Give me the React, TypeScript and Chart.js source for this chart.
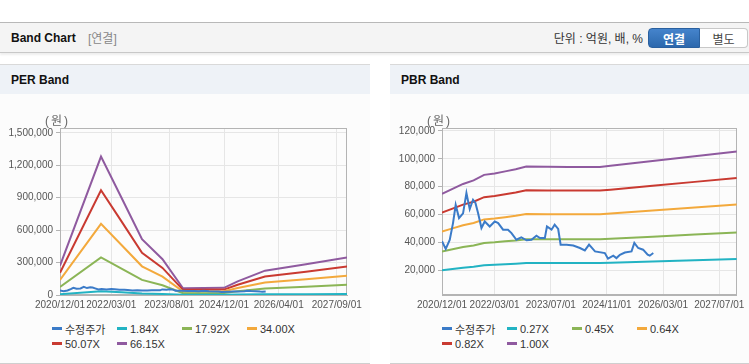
import React, { useEffect, useRef } from "react";
import { Chart, registerables } from "chart.js";

Chart.register(...registerables);

const FONT = '"Liberation Sans", "Noto Sans CJK KR", Arial, sans-serif';

// ---------- data ----------
// x values are months elapsed since 2020/12/01
const priceMonths = [0, 1.06, 2.2, 3.14, 3.9, 4.85, 6.0, 6.96, 7.9, 8.84, 9.53, 10.27, 11.24, 12.18, 13.6, 15.03, 16.0, 17.4, 18.8, 19.8, 21.2, 22.6, 24.1, 25.5, 26.9, 27.9, 29.3, 29.9, 31.2, 32.1, 33.1, 33.8, 35.5, 37.4, 39.3, 40.7, 41.9, 43.6, 46.4, 47.3, 48.8, 49.7, 50.7, 52.1, 54.0, 54.8, 55.9, 57.3, 58.6, 59.2, 60.2];
const priceValues = [41000, 35500, 42000, 54000, 67000, 57600, 61000, 75500, 64000, 70700, 68400, 61200, 50500, 55200, 51600, 55200, 54000, 49300, 49300, 46900, 42100, 43800, 41700, 42100, 45000, 43300, 43300, 51600, 49300, 52900, 49800, 38600, 38600, 38000, 36200, 34500, 38600, 33800, 32600, 28600, 30700, 29000, 31400, 33000, 33800, 39800, 36200, 35000, 31400, 30700, 32600];

const perMonths = [0, 12, 18, 24, 30, 36, 48, 52, 60, 72, 84];
const perBandNames = ["1.84X", "17.92X", "34.00X", "50.07X", "66.15X"];
const perBand1 = [7500, 35600, 25000, 14400, 9200, 1750, 1840, 3500, 6260, 7910, 9660];
const perBand2 = [73500, 346800, 243700, 139800, 89600, 17000, 17900, 34000, 60900, 77100, 94100];
const perBand3 = [139400, 657900, 462400, 265200, 170000, 32300, 34000, 64600, 115600, 146200, 178500];
const perBand4 = [205300, 968900, 681000, 390500, 250400, 47600, 50100, 95100, 170200, 215300, 262900];
const perBand5 = [271200, 1280000, 899600, 516000, 330800, 62800, 66200, 125700, 224900, 284400, 347300];
const perYTicks = [0, 300000, 600000, 900000, 1200000, 1500000];
const perXTickLabels = ["2020/12/01", "2022/03/01", "2023/08/01", "2024/12/01", "2026/04/01", "2027/09/01"];

const pbrMonths = [0, 3, 6, 9, 12, 15, 18, 21, 24, 30, 36, 45, 48, 60, 72, 84];
const pbrBandNames = ["0.27X", "0.45X", "0.64X", "0.82X", "1.00X"];
const pbrBand1 = [20250, 21200, 22140, 22820, 23900, 24170, 24570, 24980, 25520, 25460, 25430, 25430, 25650, 26570, 27490, 28400];
const pbrBand2 = [33750, 35330, 36900, 38030, 39830, 40280, 40950, 41630, 42530, 42440, 42390, 42390, 42750, 44280, 45810, 47340];
const pbrBand3 = [48000, 50240, 52480, 54080, 56640, 57280, 58240, 59200, 60480, 60350, 60290, 60290, 60800, 62980, 65150, 67330];
const pbrBand4 = [61500, 64370, 67240, 69290, 72570, 73390, 74620, 75850, 77490, 77330, 77240, 77240, 77900, 80690, 83480, 86260];
const pbrBand5 = [75000, 78500, 82000, 84500, 88500, 89500, 91000, 92500, 94500, 94300, 94200, 94200, 95000, 98400, 101800, 105200];
const pbrYTicks = [20000, 40000, 60000, 80000, 100000, 120000];
const pbrXTickLabels = ["2020/12/01", "2022/03/01", "2023/07/01", "2024/11/01", "2026/03/01", "2027/07/01"];

const priceName = "수정주가";
const seriesColors = ["#3b7bc8", "#22b3c3", "#8bb556", "#f3a93c", "#c93a31", "#8f5a9f"];

// ---------- helpers ----------
const labelToMonth = (s: string) => {
  const [y, m] = s.split("/").map(Number);
  return (y - 2020) * 12 + (m - 12);
};

const zip = (xs: number[], ys: number[]) => xs.map((x, i) => ({ x, y: ys[i] }));

const framePlugin = {
  id: "frame",
  beforeDatasetsDraw(chart: any) {
    const { ctx, chartArea: a } = chart;
    ctx.save();
    ctx.strokeStyle = "#b4b4b4";
    ctx.lineWidth = 1;
    ctx.strokeRect(
      Math.round(a.left) + 0.5,
      Math.round(a.top) + 0.5,
      Math.round(a.right - a.left) - 1,
      Math.round(a.bottom - a.top) - 1
    );
    ctx.restore();
  },
};

type ChartProps = {
  width: number;
  height: number;
  yWidth: number;
  padRight: number;
  yMin: number;
  yMax: number;
  yTicks: number[];
  xTickLabels: string[];
  bandMonths: number[];
  bands: number[][];
  bandNames: string[];
};

function BandCanvas(p: ChartProps) {
  const ref = useRef<HTMLCanvasElement | null>(null);
  useEffect(() => {
    if (!ref.current) return;
    const xTicks = p.xTickLabels.map(labelToMonth);
    const datasets: any[] = [
      {
        label: priceName,
        data: zip(priceMonths, priceValues),
        borderColor: seriesColors[0],
        backgroundColor: seriesColors[0],
        borderWidth: 2,
        pointRadius: 0,
      },
      ...p.bands.map((b, i) => ({
        label: p.bandNames[i],
        data: zip(p.bandMonths, b),
        borderColor: seriesColors[i + 1],
        backgroundColor: seriesColors[i + 1],
        borderWidth: 2,
        pointRadius: 0,
      })),
    ];
    const chart = new Chart(ref.current, {
      type: "line",
      data: { datasets },
      plugins: [framePlugin],
      options: {
        animation: false,
        responsive: false,
        maintainAspectRatio: false,
        layout: { padding: { left: 0, right: p.padRight, top: 28, bottom: 0 } },
        plugins: { legend: { display: false }, tooltip: { enabled: false } },
        elements: { line: { tension: 0 } },
        scales: {
          x: {
            type: "linear",
            min: 0,
            max: 84,
            afterBuildTicks: (scale: any) => {
              scale.ticks = xTicks.map((v) => ({ value: v }));
            },
            afterFit: (scale: any) => {
              scale.height = 20;
            },
            ticks: {
              autoSkip: false,
              maxRotation: 0,
              padding: 4,
              color: "#555",
              font: { family: FONT, size: 10 },
              callback: (v: any) => {
                const i = xTicks.indexOf(Number(v));
                return i >= 0 ? p.xTickLabels[i] : "";
              },
            },
            grid: { color: "#e6e6e6", drawTicks: false },
            border: { color: "#b4b4b4" },
          },
          y: {
            type: "linear",
            min: p.yMin,
            max: p.yMax,
            afterBuildTicks: (scale: any) => {
              scale.ticks = p.yTicks.map((v) => ({ value: v }));
            },
            afterFit: (scale: any) => {
              scale.width = p.yWidth;
            },
            ticks: {
              padding: 3,
              color: "#555",
              font: { family: FONT, size: 10 },
              callback: (v: any) => Number(v).toLocaleString("en-US"),
            },
            grid: { color: "#e6e6e6", tickLength: 4, tickColor: "#b4b4b4" },
            border: { color: "#b4b4b4" },
          },
        },
      } as any,
    });
    return () => chart.destroy();
  }, []);
  return <canvas ref={ref} width={p.width} height={p.height} style={{ display: "block", width: p.width, height: p.height }} />;
}

function Legend({ names, left }: { names: string[]; left: number }) {
  return (
    <div style={{ position: "absolute", left, top: 321, width: 270, display: "flex", flexWrap: "wrap" }}>
      {names.map((n, i) => (
        <div key={n} style={{ width: 65, height: 15, display: "flex", alignItems: "center" }}>
          <span style={{ display: "inline-block", width: 10, height: 3, background: seriesColors[i], marginRight: 3 }} />
          <span style={{ fontSize: 11, color: "#333", whiteSpace: "nowrap" }}>{n}</span>
        </div>
      ))}
    </div>
  );
}

function Panel({ left, width, title }: { left: number; width: number; title: string }) {
  return (
    <div style={{ position: "absolute", left, top: 64, width, height: 300, background: "#fcfcfc", borderTop: "1px solid #d9d9d9", borderBottom: "1px solid #cfcfcf", boxSizing: "border-box" }}>
      <div style={{ height: 29, background: "#eef2f7", display: "flex", alignItems: "center", paddingLeft: 11, fontWeight: "bold", fontSize: 12, color: "#111" }}>{title}</div>
    </div>
  );
}

function UnitLabel({ left }: { left: number }) {
  return (
    <div style={{ position: "absolute", left, top: 111, width: 30, fontSize: 12, color: "#666", whiteSpace: "nowrap", zIndex: 2 }}>
      <span>(</span>
      <span style={{ margin: "0 2px" }}>원</span>
      <span>)</span>
    </div>
  );
}

export default function App() {
  return (
    <div style={{ position: "absolute", left: 0, top: 0, width: 749, height: 364, background: "#fff", fontFamily: FONT, overflow: "hidden" }}>
      {/* header */}
      <div style={{ position: "absolute", left: 0, top: 22, width: 749, height: 31, background: "#f4f4f4", borderTop: "1px solid #b8b8b8", borderBottom: "1px solid #c8c8c8", boxShadow: "0 2px 2px rgba(0,0,0,0.07)", boxSizing: "border-box" }}>
        <div style={{ position: "absolute", left: 11, top: 0, height: 29, display: "flex", alignItems: "center", fontSize: 12, fontWeight: "bold", color: "#111" }}>Band Chart</div>
        <div style={{ position: "absolute", left: 88, top: 0, height: 29, display: "flex", alignItems: "center", fontSize: 12, color: "#888" }}>[연결]</div>
        <div style={{ position: "absolute", right: 106, top: 0, height: 29, display: "flex", alignItems: "center", fontSize: 12, color: "#333" }}>단위 : 억원, 배, %</div>
        <div style={{ position: "absolute", left: 648, top: 5, width: 52, height: 20, boxSizing: "border-box", background: "linear-gradient(#4584cc, #2c68ad)", border: "1px solid #2a609f", borderRadius: "4px 0 0 4px", color: "#fff", fontWeight: "bold", fontSize: 12, display: "flex", alignItems: "center", justifyContent: "center" }}>연결</div>
        <div style={{ position: "absolute", left: 700, top: 5, width: 48, height: 20, boxSizing: "border-box", background: "#fff", border: "1px solid #c8c8c8", borderLeft: "none", borderRadius: "0 4px 4px 0", color: "#444", fontSize: 12, display: "flex", alignItems: "center", justifyContent: "center" }}>별도</div>
      </div>

      <Panel left={0} width={370} title="PER Band" />
      <Panel left={390} width={359} title="PBR Band" />

      <div style={{ position: "absolute", left: 0, top: 100 }}>
        <BandCanvas
          width={370}
          height={215}
          yWidth={60}
          padRight={23}
          yMin={0}
          yMax={1544000}
          yTicks={perYTicks}
          xTickLabels={perXTickLabels}
          bandMonths={perMonths}
          bands={[perBand1, perBand2, perBand3, perBand4, perBand5]}
          bandNames={perBandNames}
        />
      </div>
      <div style={{ position: "absolute", left: 390, top: 100 }}>
        <BandCanvas
          width={359}
          height={215}
          yWidth={52}
          padRight={12}
          yMin={2600}
          yMax={122000}
          yTicks={pbrYTicks}
          xTickLabels={pbrXTickLabels}
          bandMonths={pbrMonths}
          bands={[pbrBand1, pbrBand2, pbrBand3, pbrBand4, pbrBand5]}
          bandNames={pbrBandNames}
        />
      </div>

      <UnitLabel left={45} />
      <UnitLabel left={427} />

      <Legend names={[priceName, ...perBandNames]} left={52} />
      <Legend names={[priceName, ...pbrBandNames]} left={442} />
    </div>
  );
}
